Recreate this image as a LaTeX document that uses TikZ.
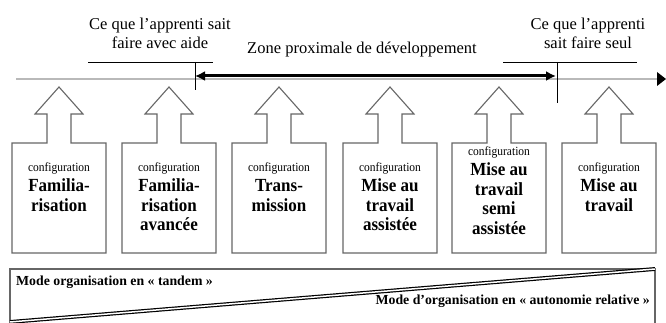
\documentclass[tikz,border=0pt]{standalone}
\usepackage{fontspec}
\setmainfont{Liberation Serif}
\newfontfamily\boxfont[FakeStretch=0.92]{Liberation Serif}
\usetikzlibrary{arrows.meta}

\tikzset{
  boxline/.style={draw=black!60, line width=1.1pt},
  tickline/.style={draw=black, line width=0.9pt},
  toptext/.style={align=center, inner sep=0pt, font=\fontsize{16.5}{19}\selectfont},
  conftext/.style={align=center, anchor=north, inner sep=0pt, font=\boxfont\fontsize{18.5}{19.5}\selectfont\bfseries},
  modetext/.style={inner sep=0pt, font=\fontsize{13.8}{16}\selectfont\bfseries},
}
\newcommand{\confword}{{\fontsize{12.5}{14}\selectfont\mdseries configuration}\\[1pt]}

\begin{document}
\begin{tikzpicture}[x=1pt,y=-1pt]
        \useasboundingbox (0,0) rectangle (666,323);

        % draw the time line
        \coordinate (lstart) at (16,79);
        \coordinate (lend) at (657,79);
        \draw[gray!55, line width=2pt] (lstart) -- (lend);
        \fill[black] (657,72) -- (666,79) -- (657,86) -- cycle;

        % zone proximale
        \coordinate (zleft) at (195,76);
        \coordinate (zright) at (556,76);
        \draw[{Latex[length=10pt,width=10pt]}-{Latex[length=10pt,width=10pt]}, line width=3pt] (zleft) -- (zright);

        % the two marks
        \draw[tickline] (88,62) -- (213,62)
                        (195,62) -- (195,90);
        \draw[tickline] (503,62) -- (637,62)
                        (557,62) -- (557,103);

        \node[toptext] (aide) at (160,33) {Ce que l’apprenti sait\\faire avec aide};
        \node[toptext] (seul) at (588,33) {Ce que l’apprenti\\sait faire seul};
        \node[toptext] (zpd) at (362,50) {Zone proximale de développement};

        % draw the configurations
        \foreach \n/\cx/\ty/\lab in {1/59/162/{Familia-\\risation},
                                     2/169/162/{Familia-\\risation\\avancée},
                                     3/279/162/{Trans-\\mission},
                                     4/390/162/{Mise au\\travail\\assistée},
                                     5/499/146/{Mise au\\travail\\semi\\assistée},
                                     6/609/162/{Mise au\\travail}} {
                \draw[boxline] (\cx-47,143) -- (\cx-12,143) -- (\cx-12,114) -- (\cx-24,114)
                        -- (\cx,87) -- (\cx+24,114) -- (\cx+12,114) -- (\cx+12,143)
                        -- (\cx+47,143) -- (\cx+47,253) -- (\cx-47,253) -- cycle;
                \node[conftext] (conf\n) at (\cx,\ty) {\confword \lab};
        }

        % modes of organisation
        \coordinate (mbl) at (10,322);
        \coordinate (mtr) at (655,269);
        \draw[boxline] (10,330) -- (10,269) -- (mtr) -- (655,330);
        \draw[double=white, double distance=1.5pt, line width=1.2pt] (mbl) -- (mtr);

        \node[modetext, anchor=west] (tandem) at (16,282) {Mode organisation en « tandem »};
        \node[modetext, anchor=east] (autonomie) at (650,301) {Mode d’organisation en « autonomie relative »};

\end{tikzpicture}
\end{document}
